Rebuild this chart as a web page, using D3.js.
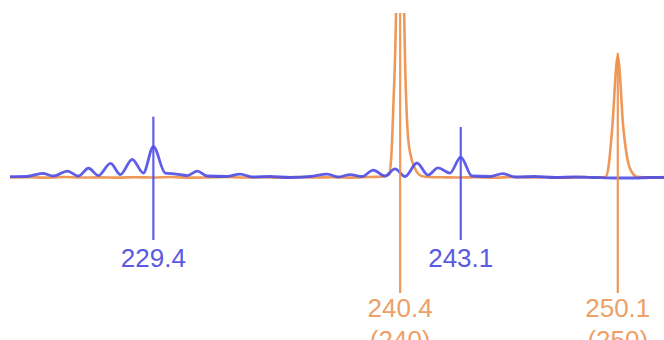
<!DOCTYPE html>
<html>
<head>
<meta charset="utf-8">
<script src="https://cdn.jsdelivr.net/npm/d3@7"></script>
<style>
  html, body { margin: 0; padding: 0; background: #ffffff; }
  svg { display: block; }
</style>
</head>
<body>
<div id="chart"></div>
<script>
// ---- Data ----
const blueMz = [223.01, 223.75, 224.46, 224.95, 225.57, 226.06, 226.51, 226.95, 227.49, 227.93, 228.46, 228.95, 229.4, 229.93, 230.42, 230.91, 231.36, 231.8, 232.61, 233.27, 233.81, 234.61, 235.5, 236.39, 237.15, 237.64, 238.17, 238.71, 239.2, 239.73, 240.17, 240.62, 241.15, 241.64, 242.09, 242.62, 243.1, 243.6, 244.4, 244.98, 245.52, 246.41, 247.3, 248.19, 249.08, 249.97, 250.86, 251.53, 252.16];
const blueInt = [0.8, 0.9, 2.8, 1.2, 4.2, 1.2, 5.9, 1.5, 8.9, 2.1, 11.3, 3.0, 19.0, 3.0, 2.4, 1.5, 4.2, 1.2, 0.9, 2.4, 0.6, 0.9, 0.3, 0.9, 2.4, 0.6, 2.1, 0.9, 4.8, 1.2, 5.5, 0.9, 9.1, 1.8, 6.1, 3.0, 12.7, 1.2, 0.9, 2.7, 0.6, 0.9, 0.3, 0.6, 0.3, 0.0, 0.0, 0.3, 0.3];

const orangeMz = [223.01, 223.8, 224.6, 225.4, 226.2, 227.0, 227.8, 228.6, 229.4, 230.2, 231.0, 231.8, 232.6, 233.4, 234.2, 235.0, 235.8, 236.6, 237.4, 238.2, 239.0, 239.6, 239.9, 240.0, 240.1, 240.22, 240.4, 240.58, 240.75, 240.9, 241.05, 241.25, 241.5, 241.9, 242.4, 243.0, 243.8, 244.6, 245.4, 246.2, 247.0, 247.8, 248.6, 249.2, 249.55, 249.7, 249.85, 250.1, 250.35, 250.55, 250.75, 250.95, 251.5, 252.16];
const orangeInt = [0.3, 0.5, 0.2, 0.6, 0.3, 0.4, 0.2, 0.5, 0.3, 0.6, 0.2, 0.4, 0.7, 0.3, 0.5, 0.2, 0.6, 0.3, 0.5, 0.2, 0.6, 0.8, 2, 12, 45, 105, 420, 100, 25, 12, 6, 2, 0.8, 0.5, 0.4, 0.3, 0.5, 0.2, 0.6, 0.3, 0.5, 0.2, 0.6, 0.4, 0.6, 8, 30, 74, 30, 10, 3, 0.8, 0.4, 0.6];

const markerSeries = ["blue", "blue", "orange", "orange"];
const markerMz = [229.4, 243.1, 240.4, 250.1];
const markerInt = [19.0, 12.7, 420, 74];
const markerLabel = ["229.4", "243.1", "240.4", "250.1"];
const markerSub = ["", "", "(240)", "(250)"];

// ---- Styles ----
const W = 664, H = 340;
const style = {
  blue:   { line: "#4c4ce6", text: "#5a5ae2", over: 30, bottom: 240, textY: 267 },
  orange: { line: "#ec8e48", text: "#eda067", over: 3,  bottom: 293, textY: 317 }
};

const svg = d3.select("#chart").append("svg")
  .attr("width", W).attr("height", H);

const x = d3.scaleLinear().domain([223.01, 252.16]).range([10, 664]);
const y = d3.scaleLinear().domain([0, 100]).range([178, 13]);

const defs = svg.append("defs");
defs.append("clipPath").attr("id", "plotclip")
  .append("rect").attr("x", 0).attr("y", 13).attr("width", W).attr("height", H - 13);
defs.append("filter").attr("id", "soft")
  .append("feGaussianBlur").attr("stdDeviation", 0.45);

const line = d3.line()
  .x(d => x(d[0])).y(d => y(d[1]))
  .curve(d3.curveMonotoneX);

const g = svg.append("g").attr("clip-path", "url(#plotclip)");
const gs = g.append("g").attr("filter", "url(#soft)");

const blueData = blueMz.map((m, i) => [m, blueInt[i]]);
const orangeData = orangeMz.map((m, i) => [m, orangeInt[i]]);

gs.append("path").datum(orangeData)
  .attr("d", line).attr("fill", "none")
  .attr("stroke", style.orange.line).attr("stroke-width", 2.6)
  .attr("stroke-opacity", 0.9).attr("stroke-linejoin", "round");

gs.append("path").datum(blueData)
  .attr("d", line).attr("fill", "none")
  .attr("stroke", style.blue.line).attr("stroke-width", 2.8)
  .attr("stroke-opacity", 0.9).attr("stroke-linejoin", "round");

// markers
markerMz.forEach((m, i) => {
  const s = style[markerSeries[i]];
  const top = Math.max(13, y(markerInt[i]) - s.over);
  gs.append("line")
    .attr("x1", x(m)).attr("x2", x(m))
    .attr("y1", top).attr("y2", s.bottom)
    .attr("stroke", s.line).attr("stroke-width", 2.2).attr("stroke-opacity", 0.9);
  svg.append("text")
    .attr("x", x(m)).attr("y", s.textY)
    .attr("text-anchor", "middle")
    .attr("font-family", "'Liberation Sans', Arial, sans-serif")
    .attr("font-size", 26)
    .attr("fill", s.text)
    .text(markerLabel[i]);
  if (markerSub[i]) {
    svg.append("text")
      .attr("x", x(m)).attr("y", s.textY + 32)
      .attr("text-anchor", "middle")
      .attr("font-family", "'Liberation Sans', Arial, sans-serif")
      .attr("font-size", 26)
      .attr("fill", s.text)
      .text(markerSub[i]);
  }
});
</script>
</body>
</html>
